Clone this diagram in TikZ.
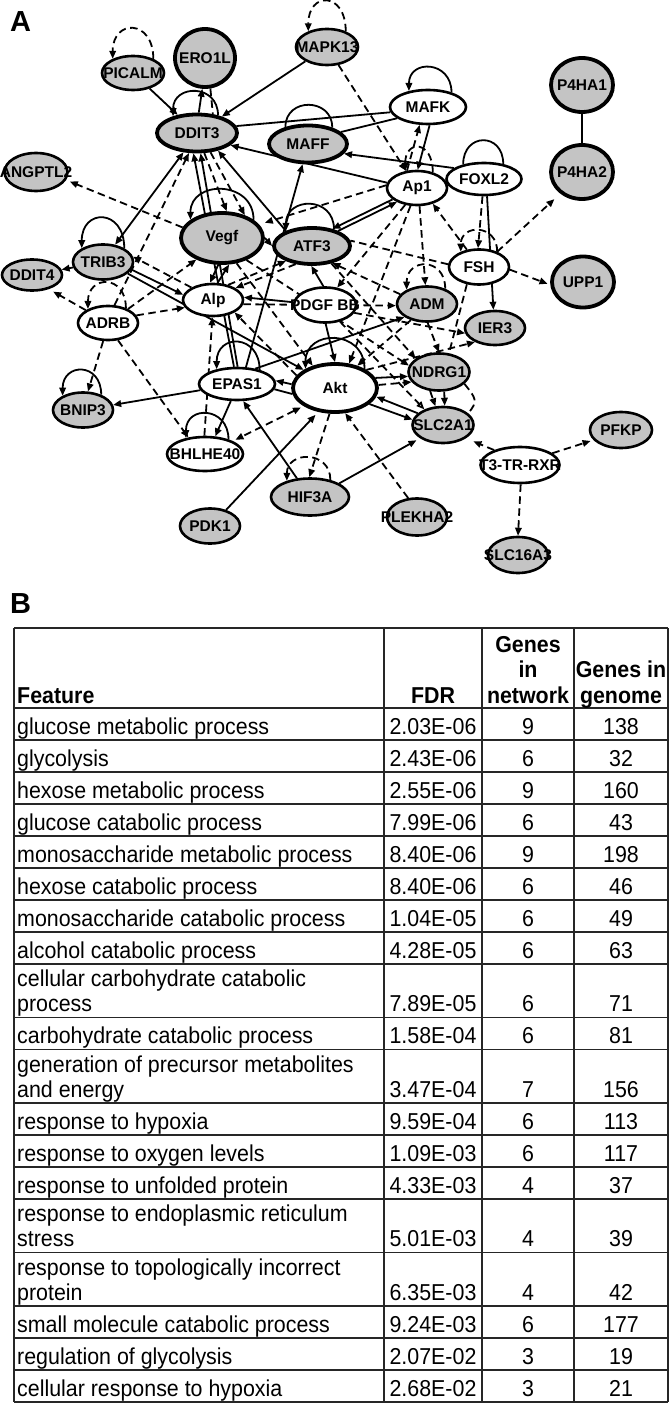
\documentclass[tikz,border=0pt]{standalone}
\usepackage{fontspec}
\setmainfont{Liberation Sans}
\newfontfamily\tabfont[FakeStretch=0.93]{Liberation Sans}
\usetikzlibrary{shapes.geometric,arrows.meta,calc}
\pgfdeclarelayer{bg}
\pgfsetlayers{bg,main}
\definecolor{ngray}{HTML}{C4C4C4}
\newcommand\myloop[5][]{\draw[#1] (#2.#3) .. controls +(0,-#5) and +(0,-#5) .. (#2.#4);}
\newcommand\nd[7]{\node[#1,minimum width=#5pt,minimum height=#6pt] (#2) at (#3,#4) {};
  \node[lbl] (#2t) at (#2.center) {#7};}
\newcommand\trow[6]{%
  \node[tc,anchor=base west] (f#1) at (17,#2) {#3};
  \node[tc,anchor=base] (q#1) at (433,#2) {#4};
  \node[tc,anchor=base] (n#1) at (528,#2) {#5};
  \node[tc,anchor=base] (g#1) at (621,#2) {#6};}
\tikzset{
  gn/.style={ellipse,draw,fill=ngray,line width=2.6pt,inner sep=0pt},
  wn/.style={ellipse,draw,fill=white,line width=2.6pt,inner sep=0pt},
  thk/.style={line width=3.8pt},
  lbl/.style={inner sep=0pt,font=\bfseries\fontsize{15.5}{17}\selectfont},
  sol/.style={line width=1.8pt},
  dsh/.style={line width=1.8pt,dash pattern=on 7.5pt off 4.5pt},
  arr/.style={-{Triangle[length=8pt,width=6.5pt]}},
  darr/.style={{Triangle[length=8pt,width=6.5pt]}-{Triangle[length=8pt,width=6.5pt]}},
  openarr/.style={-{Triangle[open,length=8pt,width=6.5pt]}},
  tc/.style={inner sep=0pt,font=\tabfont\fontsize{23}{25}\selectfont},
  th/.style={inner sep=0pt,font=\tabfont\bfseries\fontsize{23}{25}\selectfont},
  grid/.style={line width=1.3pt,draw=black!85},
  panel/.style={inner sep=0pt,anchor=base west,font=\bfseries\fontsize{29}{30}\selectfont}
}
\begin{document}
\begin{tikzpicture}[x=1pt,y=-1pt]
\useasboundingbox (0,0) rectangle (670,1404);
\node[panel] (pa) at (10,32) {A};
\node[panel] (pb) at (10,613) {B};
% ---------- nodes ----------
\nd{gn}{picalm}{133}{73}{62}{34}{PICALM}
\nd{gn,thk}{ero}{205}{58}{60}{58}{ERO1L}
\nd{gn}{mapk}{327}{47}{62}{36}{MAPK13}
\nd{gn,thk}{ddit}{197}{133}{80}{37}{DDIT3}
\nd{gn,thk}{maff}{308}{144}{78}{37}{MAFF}
\nd{wn}{mafk}{428}{107}{76}{34}{MAFK}
\nd{gn,thk}{pha1}{582}{85}{62}{54}{P4HA1}
\nd{gn,thk}{pha2}{582}{172}{62}{54}{P4HA2}
\nd{gn}{angp}{36}{172}{63}{38}{ANGPTL2}
\nd{wn}{apone}{417}{188}{60}{34}{Ap1}
\nd{wn}{foxl}{484}{179}{75}{32}{FOXL2}
\nd{gn,thk}{vegf}{222}{238}{82}{50}{Vegf}
\nd{gn,thk}{atf}{312}{246}{76}{36}{ATF3}
\nd{gn}{trib}{103}{262}{60}{35}{TRIB3}
\nd{gn}{dditf}{32}{275}{60}{31}{DDIT4}
\nd{wn}{fsh}{479}{267}{60}{35}{FSH}
\nd{gn,thk}{upp}{583}{282}{62}{51}{UPP1}
\nd{wn}{alp}{213}{300}{60}{32}{Alp}
\nd{wn}{adrb}{108}{323}{60}{34}{ADRB}
\nd{wn}{pdgf}{325}{305}{62}{35}{PDGF BB}
\nd{gn}{adm}{427}{304}{60}{35}{ADM}
\nd{gn}{ier}{495}{328}{60}{34}{IER3}
\nd{gn}{ndrg}{439}{372}{61}{37}{NDRG1}
\nd{wn,thk}{akt}{335}{388}{84}{48}{Akt}
\nd{wn}{epas}{237}{384}{76}{32}{EPAS1}
\nd{gn}{bnip}{83}{410}{60}{35}{BNIP3}
\nd{gn}{slc}{443}{425}{61}{36}{SLC2A1}
\nd{gn}{pfkp}{621}{430}{62}{36}{PFKP}
\nd{wn}{ttr}{520}{465}{79}{36}{T3-TR-RXR}
\nd{wn}{bhl}{205}{454}{76}{34}{BHLHE40}
\nd{gn}{plek}{417}{517}{60}{37}{PLEKHA2}
\nd{gn}{slcs}{518}{555}{60}{36}{SLC16A3}
\nd{gn}{pdk}{210}{526}{60}{35}{PDK1}
\nd{gn}{hif}{310}{497}{78}{37}{HIF3A}
% ---------- edges ----------
\begin{pgfonlayer}{bg}
\fill[white] (0,0) rectangle (670,1404);
\myloop[dsh,arr]{picalm}{35}{145}{40}
\myloop[dsh,arr]{mapk}{40}{140}{40}
\myloop[sol,arr]{ddit}{40}{145}{32}
\myloop[sol]{maff}{34}{143}{30}
\myloop[sol,arr]{mafk}{32}{140}{32}
\myloop[dsh,arr]{apone}{45}{125}{32}
\myloop[sol]{foxl}{38}{145}{32}
\myloop[sol,arr]{vegf}{30}{150}{40}
\myloop[sol,arr]{atf}{37}{150}{34}
\myloop[sol,arr]{trib}{33}{147}{40}
\myloop[dsh,arr]{adrb}{40}{145}{34}
\myloop[sol,arr]{bnip}{40}{145}{33}
\myloop[sol,arr]{epas}{32}{144}{36}
\myloop[sol,arr]{bhl}{32}{140}{33}
\myloop[dsh,arr]{hif}{40}{145}{30}
\myloop[sol,arr]{akt}{33}{147}{40}
\myloop[dsh,arr]{fsh}{40}{140}{28}
\myloop[dsh,arr]{adm}{40}{145}{32}
\draw[sol,arr] (picalm) -- (ddit);
\draw[sol,arr] (ddit.85) -- (ero.265);
\draw[dsh] (ero.280) -- (ddit.50);
\draw[sol,arr] (mapk) -- (ddit);
\draw[dsh,arr] (mapk) -- (apone);
\draw[sol] (ddit.10) -- (mafk.188);
\draw[sol] (maff.20) -- (mafk.200);
\draw[sol,arr] (foxl.160) -- (maff.345);
\draw[sol,arr] (apone.170) -- (ddit.340);
\draw[sol,arr] (mafk.275) -- (apone.88);
\draw[dsh,arr] (apone.120) -- (mafk.245);
\draw[dsh,arr] (foxl.265) -- (fsh.93);
\draw[sol,arr] (foxl.280) -- (ier.95);
\draw[dsh,arr] (fsh.125) -- (apone.315);
\draw[dsh,arr,shorten >=8pt] (fsh.40) -- (pha2.225);
\draw[dsh,arr,shorten >=3pt] (fsh.355) -- (upp.185);
\draw[sol] (pha1) -- (pha2);
\draw[sol,arr] (apone.205) -- (atf.40);
\draw[sol,arr] (atf.30) -- (apone.215);
\draw[dsh,arr,shorten >=6pt] (apone.175) -- (vegf.20);
\draw[sol,arr] (epas.62) -- (maff.255);
\draw[sol,arr] (atf.150) -- (ddit.320);
\draw[dsh,arr] (ddit.290) -- (vegf.80);
\draw[dsh,arr] (ddit.305) -- (vegf.45);
\draw[sol,arr] (epas.100) -- (ddit.260);
\draw[sol,arr] (epas.88) -- (ddit.280);
\draw[sol,arr] (vegf.262) -- (alp.100);
\draw[sol,arr] (alp.75) -- (vegf.285);
\draw[sol,darr] (trib.55) -- (ddit.235);
\draw[dsh,arr] (adrb.70) -- (ddit.248);
\draw[dsh,arr,shorten >=4pt] (vegf.165) -- (angp.345);
\draw[sol,arr] (trib) -- (dditf);
\draw[dsh,arr,shorten >=5pt] (adrb.150) -- (dditf.320);
\draw[sol,arr] (trib.345) -- (alp.170);
\draw[dsh,arr] (alp.150) -- (trib.10);
\draw[sol,arr] (trib.335) -- (akt.150);
\draw[dsh,arr] (adrb.35) -- (vegf.220);
\draw[dsh,arr] (adrb.15) -- (alp.195);
\draw[dsh,arr] (alp.45) -- (atf.210);
\draw[dsh,arr] (atf.228) -- (alp.28);
\draw[sol,arr] (pdgf.175) -- (alp.5);
\draw[dsh,arr] (alp.352) -- (adm.183);
\draw[sol,arr] (pdgf.95) -- (atf.268);
\draw[dsh,arr] (adm.160) -- (atf.320);
\draw[sol,arr] (pdgf.272) -- (akt.90);
\draw[dsh,arr] (apone.235) -- (pdgf.55);
\draw[dsh,arr] (apone.250) -- (akt.60);
\draw[dsh,arr] (apone.278) -- (adm.95);
\draw[dsh] (fsh.175) -- (atf.8);
\draw[dsh] (fsh.235) -- (ndrg.62);
\draw[dsh,arr] (adm.272) -- (ndrg.90);
\draw[dsh,arr] (pdgf.345) -- (ier.190);
\draw[dsh,arr] (akt.30) -- (ier.215);
\draw[dsh,arr] (adm.225) -- (akt.45);
\draw[sol,arr] (epas.40) -- (adm.210);
\draw[sol,arr] (akt.175) -- (epas.5);
\draw[sol] (akt.188) -- (epas.352);
\draw[sol,arr] (epas) -- (bnip);
\draw[sol,arr] (epas.250) -- (bhl.60);
\draw[dsh,darr,shorten <=3pt,shorten >=3pt] (akt.210) -- (bhl.25);
\draw[dsh,arr] (bhl.92) -- (alp.268);
\draw[dsh,arr] (adrb.300) -- (bhl.135);
\draw[dsh,arr] (adrb.255) -- (bnip.75);
\draw[sol,arr] (hif.125) -- (epas.290);
\draw[sol,arr,shorten >=4pt] (pdk.45) -- (akt.235);
\draw[dsh,arr] (akt.258) -- (hif.92);
\draw[sol,arr,shorten >=4pt] (hif.25) -- (slc.210);
\draw[dsh,arr] (plek.115) -- (akt.292);
\draw[sol,arr] (akt.14) -- (ndrg.188);
\draw[dsh,arr] (akt.4) -- (ndrg.200);
\draw[sol,arr] (akt.335) -- (slc.170);
\draw[sol,arr] (slc.155) -- (akt.348);
\draw[dsh,arr] (ndrg.245) -- (slc.112);
\draw[dsh,arr] (ndrg.285) -- (slc.85);
\draw[dsh] (ndrg.335) .. controls +(12,15) and +(10,-12) .. (slc.25);
\draw[dsh,openarr] (pdgf.312) -- (slc.140);
\draw[dsh,arr,shorten >=8pt] (ttr.150) -- (slc.330);
\draw[dsh,arr,shorten >=3pt] (ttr.20) -- (pfkp.200);
\draw[dsh,arr] (ttr.272) -- (slcs.90);
\draw[dsh,arr] (vegf.318) -- (ndrg.168);
\draw[dsh,arr] (vegf.300) -- (akt.135);
\draw[dsh,arr] (atf.318) -- (ndrg.150);
\draw[dsh,arr] (akt.162) -- (alp.330);
\draw[sol,arr] (vegf.0) -- (atf.180);
\end{pgfonlayer}
% ---------- table ----------
\foreach \yy in {628,708,740,772,804,836,868,900,932,964,1017.5,1049.5,1103,1135,1167,1199,1252.5,1306,1338,1370,1402}
  \draw[grid] (14,\yy) -- (668,\yy);
\foreach \xx in {14,384,482,574,668}
  \draw[grid] (\xx,628) -- (\xx,1402);
\node[th,anchor=base west] (hf) at (17,703) {Feature};
\node[th,anchor=base] (hq) at (433,703) {FDR};
\node[th,anchor=base] (hn1) at (528,652) {Genes};
\node[th,anchor=base] (hn2) at (528,677.5) {in};
\node[th,anchor=base] (hn3) at (528,703) {network};
\node[th,anchor=base] (hg1) at (621,677.5) {Genes in};
\node[th,anchor=base] (hg2) at (621,703) {genome};
\trow{1}{734}{glucose metabolic process}{2.03E-06}{9}{138}
\trow{2}{766}{glycolysis}{2.43E-06}{6}{32}
\trow{3}{798}{hexose metabolic process}{2.55E-06}{9}{160}
\trow{4}{830}{glucose catabolic process}{7.99E-06}{6}{43}
\trow{5}{862}{monosaccharide metabolic process}{8.40E-06}{9}{198}
\trow{6}{894}{hexose catabolic process}{8.40E-06}{6}{46}
\trow{7}{926}{monosaccharide catabolic process}{1.04E-05}{6}{49}
\trow{8}{958}{alcohol catabolic process}{4.28E-05}{6}{63}
\node[tc,anchor=base west] (f9a) at (17,986.5) {cellular carbohydrate catabolic};
\trow{9}{1011.5}{process}{7.89E-05}{6}{71}
\trow{10}{1043.5}{carbohydrate catabolic process}{1.58E-04}{6}{81}
\node[tc,anchor=base west] (f11a) at (17,1072) {generation of precursor metabolites};
\trow{11}{1097}{and energy}{3.47E-04}{7}{156}
\trow{12}{1129}{response to hypoxia}{9.59E-04}{6}{113}
\trow{13}{1161}{response to oxygen levels}{1.09E-03}{6}{117}
\trow{14}{1193}{response to unfolded protein}{4.33E-03}{4}{37}
\node[tc,anchor=base west] (f15a) at (17,1221.5) {response to endoplasmic reticulum};
\trow{15}{1246.5}{stress}{5.01E-03}{4}{39}
\node[tc,anchor=base west] (f16a) at (17,1275) {response to topologically incorrect};
\trow{16}{1300}{protein}{6.35E-03}{4}{42}
\trow{17}{1332}{small molecule catabolic process}{9.24E-03}{6}{177}
\trow{18}{1364}{regulation of glycolysis}{2.07E-02}{3}{19}
\trow{19}{1396}{cellular response to hypoxia}{2.68E-02}{3}{21}
\end{tikzpicture}
\end{document}
